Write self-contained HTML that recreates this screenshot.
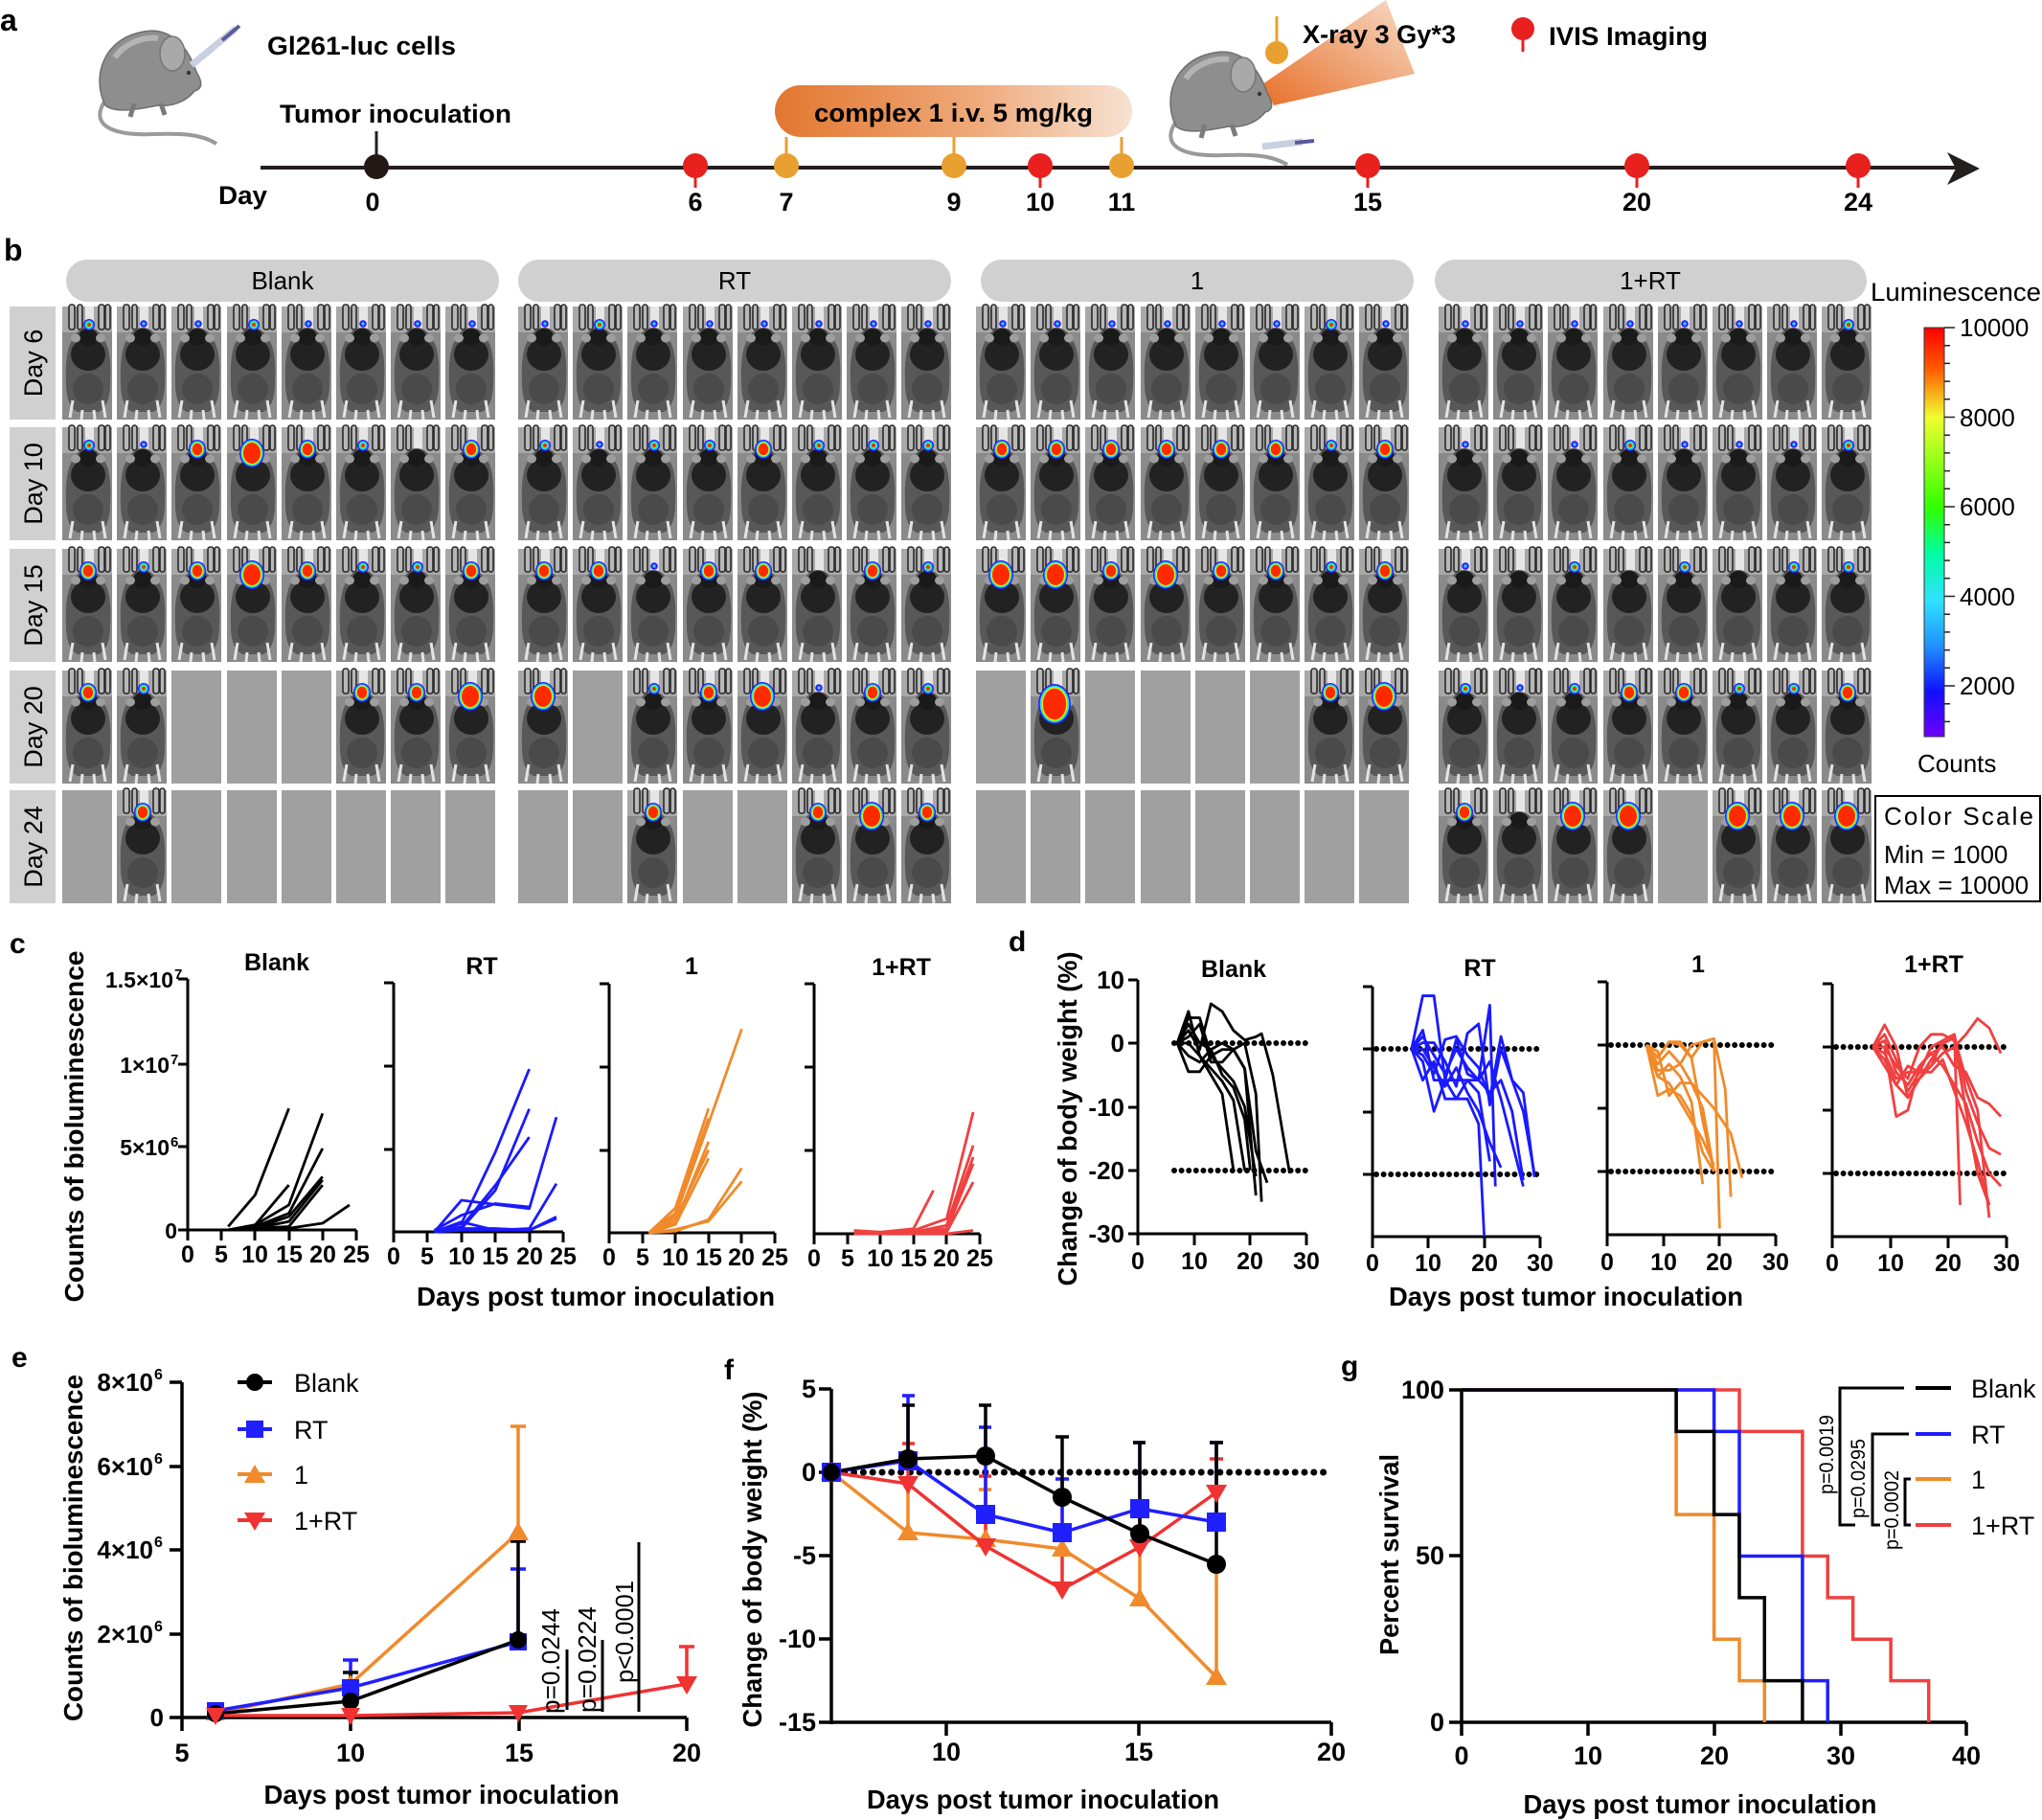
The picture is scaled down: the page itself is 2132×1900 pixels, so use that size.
<!DOCTYPE html>
<html><head><meta charset="utf-8"><style>
html,body{margin:0;padding:0;background:#fff;}
svg{display:block;}
text{font-family:"Liberation Sans",Arial,sans-serif;fill:#000;}
.b{font-weight:bold;}
.ns polyline,.ns path,.ns line{vector-effect:non-scaling-stroke;}
</style></head><body>
<svg width="2132" height="1900" viewBox="0 0 2132 1900" xmlns="http://www.w3.org/2000/svg">
<defs>
<linearGradient id="pillg" x1="0" x2="1" y1="0" y2="0"><stop offset="0" stop-color="#e2762f"/><stop offset="0.55" stop-color="#eea878"/><stop offset="1" stop-color="#f7e2d2"/></linearGradient>
<linearGradient id="beam" x1="0" y1="1" x2="1" y2="0"><stop offset="0" stop-color="#e8702a"/><stop offset="1" stop-color="#f6dcc8"/></linearGradient>
<linearGradient id="cbar" x1="0" y1="0" x2="0" y2="1">
<stop offset="0" stop-color="#ff0000"/><stop offset="0.1" stop-color="#ff5a00"/><stop offset="0.22" stop-color="#f0ff30"/><stop offset="0.44" stop-color="#30ff00"/><stop offset="0.55" stop-color="#00ffa0"/><stop offset="0.67" stop-color="#30e0ff"/><stop offset="0.78" stop-color="#2090ff"/><stop offset="0.89" stop-color="#1010ff"/><stop offset="1" stop-color="#7000ff"/></linearGradient>
<g id="e"><rect width="52" height="118" fill="#a0a0a0"/></g>
<g id="m0">
<rect width="52" height="118" fill="#8a8a8a"/>
<rect width="52" height="27" fill="#a8a8a8"/>
<g fill="#b8b8b8" stroke="#2a2a2a" stroke-width="1.6">
<rect x="7" y="-2" width="6" height="26" rx="2.5"/>
<rect x="16" y="-2" width="5" height="26" rx="2.5"/>
<rect x="38" y="-2" width="6" height="26" rx="2.5"/>
<rect x="45" y="-2" width="5" height="26" rx="2.5"/>
</g>
<rect x="24" y="0" width="9" height="26" fill="#e6e6e6"/>
<path d="M27,22 C35,22 40,28 43,34 C50,42 51,60 50,80 C50,96 46,106 38,110 L16,110 C8,106 4,96 4,80 C3,60 5,42 11,34 C14,28 19,22 27,22 Z" fill="#585858"/>
<ellipse cx="27" cy="50" rx="18" ry="17" fill="#222"/>
<ellipse cx="27" cy="32" rx="10" ry="9" fill="#1a1a1a"/>
<ellipse cx="27" cy="86" rx="16" ry="16" fill="#4a4a4a"/>
<ellipse cx="14" cy="33" rx="5" ry="4.5" fill="#9e9e9e"/>
<ellipse cx="40" cy="33" rx="5" ry="4.5" fill="#9e9e9e"/>
<path d="M11,98 L8,116 M42,98 L45,116 M21,108 L20,118 M33,108 L34,118" stroke="#e4e4e4" stroke-width="3"/>
</g>
<g id="ms"><use href="#m0"/><circle cx="28" cy="18" r="3.8" fill="#2a1cff"/><circle cx="28" cy="18" r="1.7" fill="#30d0ff"/></g>
<g id="mm"><use href="#m0"/><circle cx="28" cy="19" r="6" fill="#2a1cff"/><circle cx="28" cy="19" r="4.6" fill="#20c8ff"/><circle cx="28" cy="19" r="3.3" fill="#40ff50"/><circle cx="28" cy="19" r="2" fill="#ff2a10"/></g>
<g id="mL"><use href="#m0"/><ellipse cx="27" cy="23" rx="9" ry="10" fill="#2a1cff"/><ellipse cx="27" cy="23" rx="7.6" ry="8.6" fill="#20d0ff"/><ellipse cx="27" cy="23" rx="6.6" ry="7.6" fill="#50ff40"/><ellipse cx="27" cy="23" rx="5.9" ry="6.9" fill="#ffee00"/><ellipse cx="27" cy="23" rx="5.2" ry="6.2" fill="#ff2a00"/></g>
<g id="mX"><use href="#m0"/><ellipse cx="26" cy="27" rx="13" ry="15" fill="#2a1cff"/><ellipse cx="26" cy="27" rx="11.6" ry="13.6" fill="#20d0ff"/><ellipse cx="26" cy="27" rx="10.6" ry="12.6" fill="#50ff40"/><ellipse cx="26" cy="27" rx="9.8" ry="11.8" fill="#ffee00"/><ellipse cx="26" cy="27" rx="9" ry="11" fill="#ff2a00"/></g>
<g id="mXX"><use href="#m0"/><ellipse cx="25" cy="35" rx="17" ry="21" fill="#2a1cff"/><ellipse cx="25" cy="35" rx="15.4" ry="19.4" fill="#20d0ff"/><ellipse cx="25" cy="35" rx="14.2" ry="18.2" fill="#50ff40"/><ellipse cx="25" cy="35" rx="13.2" ry="17.2" fill="#ffee00"/><ellipse cx="25" cy="35" rx="12.2" ry="16.2" fill="#ff2a00"/></g>
<g id="mouse">
<path d="M112,102 C92,128 112,142 160,140 C190,139 210,140 226,150" stroke="#9a9a9a" stroke-width="4" fill="none"/>
<path d="M110,110 C95,80 108,40 150,33 C175,28 195,45 205,75 C212,86 211,93 203,95 C196,104 182,112 165,110 C140,115 120,118 110,110 Z" fill="#8e8e8e" stroke="#6e6e6e" stroke-width="1.5"/>
<path d="M120,60 C130,45 150,38 165,40" stroke="#b4b4b4" stroke-width="6" fill="none"/>
<ellipse cx="180" cy="56" rx="13" ry="18" fill="#a9a9a9" stroke="#777" stroke-width="1.5"/>
<circle cx="197" cy="76" r="2.2" fill="#333"/>
<path d="M140,108 L136,122 M168,108 L172,120" stroke="#7a7a7a" stroke-width="5"/>
</g>
</defs>

<!-- ===== Panel a ===== -->
<text x="0" y="32" class="b" font-size="32">a</text>
<use href="#mouse"/>
<line x1="200" y1="68" x2="246" y2="30" stroke="#c9d0e2" stroke-width="7"/>
<line x1="232" y1="42" x2="250" y2="27" stroke="#5a5a9a" stroke-width="4"/>
<text x="279" y="57" class="b" font-size="27" textLength="197" lengthAdjust="spacingAndGlyphs">Gl261-luc cells</text>
<text x="292" y="128" class="b" font-size="27" textLength="242" lengthAdjust="spacingAndGlyphs">Tumor inoculation</text>
<rect x="809" y="89" width="373" height="54" rx="27" fill="url(#pillg)"/>
<text x="850" y="127" class="b" font-size="27" textLength="291" lengthAdjust="spacingAndGlyphs">complex 1 i.v. 5 mg/kg</text>
<polygon points="1318,88 1447,0 1477,77 1330,110" fill="url(#beam)"/>
<use href="#mouse" transform="translate(1118 22)"/>
<line x1="1318" y1="153" x2="1360" y2="148" stroke="#c9d0e2" stroke-width="7"/>
<line x1="1352" y1="149" x2="1372" y2="147" stroke="#5a5a9a" stroke-width="4"/>
<!-- timeline -->
<line x1="272" y1="175" x2="2045" y2="175" stroke="#231f1f" stroke-width="4"/>
<polygon points="2033,159 2067,176 2033,193 2042,176" fill="#231f1f"/>
<line x1="393" y1="137" x2="393" y2="165" stroke="#231f1f" stroke-width="3"/>
<circle cx="393" cy="174" r="13" fill="#231815"/>
<g stroke="#e8a030" stroke-width="3"><line x1="821" y1="143" x2="821" y2="165"/><line x1="996" y1="143" x2="996" y2="165"/><line x1="1171" y1="143" x2="1171" y2="165"/><line x1="1333" y1="17" x2="1333" y2="48"/></g>
<g fill="#e8a030"><circle cx="821" cy="173" r="13"/><circle cx="996" cy="173" r="13"/><circle cx="1171" cy="173" r="13"/><circle cx="1333" cy="55" r="12"/></g>
<g stroke="#e8211f" stroke-width="3"><line x1="726" y1="180" x2="726" y2="196"/><line x1="1086" y1="180" x2="1086" y2="196"/><line x1="1428" y1="180" x2="1428" y2="196"/><line x1="1709" y1="180" x2="1709" y2="196"/><line x1="1940" y1="180" x2="1940" y2="196"/><line x1="1590" y1="36" x2="1590" y2="54"/></g>
<g fill="#e8211f"><circle cx="726" cy="173" r="13"/><circle cx="1086" cy="173" r="13"/><circle cx="1428" cy="173" r="13"/><circle cx="1709" cy="173" r="13"/><circle cx="1940" cy="173" r="13"/><circle cx="1590" cy="30" r="12"/></g>
<text x="1360" y="45" class="b" font-size="27" textLength="160" lengthAdjust="spacingAndGlyphs">X-ray 3 Gy*3</text>
<text x="1617" y="47" class="b" font-size="27" textLength="166" lengthAdjust="spacingAndGlyphs">IVIS Imaging</text>
<text x="228" y="213" class="b" font-size="27" textLength="51" lengthAdjust="spacingAndGlyphs">Day</text>
<g class="b" font-size="27" text-anchor="middle">
<text x="389" y="220">0</text><text x="726" y="220">6</text><text x="821" y="220">7</text><text x="996" y="220">9</text><text x="1086" y="220">10</text><text x="1171" y="220">11</text><text x="1428" y="220">15</text><text x="1709" y="220">20</text><text x="1940" y="220">24</text>
</g>

<!-- ===== Panel b ===== -->
<text x="4" y="272" class="b" font-size="32">b</text>
<g fill="#d0d0d0">
<rect x="69" y="271" width="452" height="44" rx="22"/>
<rect x="541" y="271" width="452" height="44" rx="22"/>
<rect x="1024" y="271" width="452" height="44" rx="22"/>
<rect x="1498" y="271" width="451" height="44" rx="22"/>
<rect x="10" y="320" width="48" height="118"/>
<rect x="10" y="446" width="48" height="118"/>
<rect x="10" y="573" width="48" height="118"/>
<rect x="10" y="700" width="48" height="118"/>
<rect x="10" y="825" width="48" height="118"/>
</g>
<g font-size="26" text-anchor="middle" fill="#222">
<text x="295" y="302">Blank</text><text x="767" y="302">RT</text><text x="1250" y="302">1</text><text x="1723" y="302">1+RT</text>
</g>
<g font-size="27" text-anchor="middle">
<text transform="translate(44 379) rotate(-90)">Day 6</text>
<text transform="translate(44 505) rotate(-90)">Day 10</text>
<text transform="translate(44 632) rotate(-90)">Day 15</text>
<text transform="translate(44 759) rotate(-90)">Day 20</text>
<text transform="translate(44 884) rotate(-90)">Day 24</text>
</g>
<!-- row Day 6 -->
<g transform="translate(0 320)">
<use href="#mm" x="65"/><use href="#ms" x="122"/><use href="#ms" x="179"/><use href="#mm" x="237"/><use href="#ms" x="294"/><use href="#ms" x="351"/><use href="#ms" x="408"/><use href="#ms" x="465"/>
<use href="#ms" x="541"/><use href="#mm" x="598"/><use href="#ms" x="655"/><use href="#ms" x="713"/><use href="#ms" x="770"/><use href="#ms" x="827"/><use href="#ms" x="884"/><use href="#ms" x="941"/>
<use href="#ms" x="1019"/><use href="#ms" x="1076"/><use href="#ms" x="1133"/><use href="#ms" x="1191"/><use href="#ms" x="1248"/><use href="#ms" x="1305"/><use href="#mm" x="1362"/><use href="#ms" x="1419"/>
<use href="#ms" x="1502"/><use href="#ms" x="1559"/><use href="#ms" x="1616"/><use href="#ms" x="1674"/><use href="#ms" x="1731"/><use href="#ms" x="1788"/><use href="#ms" x="1845"/><use href="#mm" x="1902"/>
</g>
<!-- row Day 10 -->
<g transform="translate(0 446)">
<use href="#mm" x="65"/><use href="#ms" x="122"/><use href="#mL" x="179"/><use href="#mX" x="237"/><use href="#mL" x="294"/><use href="#mm" x="351"/><use href="#m0" x="408"/><use href="#mL" x="465"/>
<use href="#mm" x="541"/><use href="#ms" x="598"/><use href="#mm" x="655"/><use href="#mm" x="713"/><use href="#mL" x="770"/><use href="#mm" x="827"/><use href="#mm" x="884"/><use href="#mm" x="941"/>
<use href="#mL" x="1019"/><use href="#mL" x="1076"/><use href="#mL" x="1133"/><use href="#mL" x="1191"/><use href="#mL" x="1248"/><use href="#mL" x="1305"/><use href="#mm" x="1362"/><use href="#mL" x="1419"/>
<use href="#ms" x="1502"/><use href="#m0" x="1559"/><use href="#ms" x="1616"/><use href="#mm" x="1674"/><use href="#ms" x="1731"/><use href="#ms" x="1788"/><use href="#ms" x="1845"/><use href="#mm" x="1902"/>
</g>
<!-- row Day 15 -->
<g transform="translate(0 573)">
<use href="#mL" x="65"/><use href="#mm" x="122"/><use href="#mL" x="179"/><use href="#mX" x="237"/><use href="#mL" x="294"/><use href="#mm" x="351"/><use href="#mm" x="408"/><use href="#mL" x="465"/>
<use href="#mL" x="541"/><use href="#mL" x="598"/><use href="#ms" x="655"/><use href="#mL" x="713"/><use href="#mL" x="770"/><use href="#m0" x="827"/><use href="#mL" x="884"/><use href="#mm" x="941"/>
<use href="#mX" x="1019"/><use href="#mX" x="1076"/><use href="#mL" x="1133"/><use href="#mX" x="1191"/><use href="#mL" x="1248"/><use href="#mL" x="1305"/><use href="#mm" x="1362"/><use href="#mL" x="1419"/>
<use href="#ms" x="1502"/><use href="#m0" x="1559"/><use href="#mm" x="1616"/><use href="#m0" x="1674"/><use href="#mm" x="1731"/><use href="#m0" x="1788"/><use href="#mm" x="1845"/><use href="#mm" x="1902"/>
</g>
<!-- row Day 20 -->
<g transform="translate(0 700)">
<use href="#mL" x="65"/><use href="#mm" x="122"/><use href="#e" x="179"/><use href="#e" x="237"/><use href="#e" x="294"/><use href="#mL" x="351"/><use href="#mL" x="408"/><use href="#mX" x="465"/>
<use href="#mX" x="541"/><use href="#e" x="598"/><use href="#mm" x="655"/><use href="#mL" x="713"/><use href="#mX" x="770"/><use href="#ms" x="827"/><use href="#mL" x="884"/><use href="#mm" x="941"/>
<use href="#e" x="1019"/><use href="#mXX" x="1076"/><use href="#e" x="1133"/><use href="#e" x="1191"/><use href="#e" x="1248"/><use href="#e" x="1305"/><use href="#mL" x="1362"/><use href="#mX" x="1419"/>
<use href="#mm" x="1502"/><use href="#ms" x="1559"/><use href="#mm" x="1616"/><use href="#mL" x="1674"/><use href="#mL" x="1731"/><use href="#mm" x="1788"/><use href="#mm" x="1845"/><use href="#mL" x="1902"/>
</g>
<!-- row Day 24 -->
<g transform="translate(0 825)">
<use href="#e" x="65"/><use href="#mL" x="122"/><use href="#e" x="179"/><use href="#e" x="237"/><use href="#e" x="294"/><use href="#e" x="351"/><use href="#e" x="408"/><use href="#e" x="465"/>
<use href="#e" x="541"/><use href="#e" x="598"/><use href="#mL" x="655"/><use href="#e" x="713"/><use href="#e" x="770"/><use href="#mL" x="827"/><use href="#mX" x="884"/><use href="#mL" x="941"/>
<use href="#e" x="1019"/><use href="#e" x="1076"/><use href="#e" x="1133"/><use href="#e" x="1191"/><use href="#e" x="1248"/><use href="#e" x="1305"/><use href="#e" x="1362"/><use href="#e" x="1419"/>
<use href="#mL" x="1502"/><use href="#m0" x="1559"/><use href="#mX" x="1616"/><use href="#mX" x="1674"/><use href="#e" x="1731"/><use href="#mX" x="1788"/><use href="#mX" x="1845"/><use href="#mX" x="1902"/>
</g>
<!-- colour bar -->
<text x="1953" y="314" font-size="27" textLength="178" lengthAdjust="spacingAndGlyphs">Luminescence</text>
<rect x="2009" y="342" width="21" height="427" fill="url(#cbar)" stroke="#333" stroke-width="1"/>
<path d="M2030,342 H2041 M2030,435.5 H2041 M2030,529 H2041 M2030,622.5 H2041 M2030,716 H2041 M2030,360.7 H2036 M2030,379.4 H2036 M2030,398.1 H2036 M2030,416.8 H2036 M2030,454.2 H2036 M2030,472.9 H2036 M2030,491.6 H2036 M2030,510.3 H2036 M2030,547.7 H2036 M2030,566.4 H2036 M2030,585.1 H2036 M2030,603.8 H2036 M2030,641.2 H2036 M2030,659.9 H2036 M2030,678.6 H2036 M2030,697.3 H2036 M2030,734.7 H2036 M2030,753.4 H2036" stroke="#222" stroke-width="1.5"/>
<g font-size="26"><text x="2046" y="351">10000</text><text x="2046" y="445">8000</text><text x="2046" y="538">6000</text><text x="2046" y="632">4000</text><text x="2046" y="725">2000</text></g>
<text x="2002" y="806" font-size="26">Counts</text>
<rect x="1958" y="831" width="172" height="110" fill="#fff" stroke="#000" stroke-width="2"/>
<g font-size="26"><text x="1967" y="861" textLength="156" lengthAdjust="spacing">Color  Scale</text><text x="1967" y="901">Min  = 1000</text><text x="1967" y="933">Max = 10000</text></g>

<!-- ===== Panel c ===== -->
<text x="10" y="995" class="b" font-size="30">c</text>
<text transform="translate(87 1176) rotate(-90)" class="b" font-size="28" text-anchor="middle" textLength="367" lengthAdjust="spacingAndGlyphs">Counts of bioluminescence</text>
<g class="b" font-size="25" text-anchor="middle">
<text x="289" y="1013">Blank</text><text x="503" y="1017">RT</text><text x="722" y="1017">1</text><text x="941" y="1018">1+RT</text>
</g>
<g class="b" font-size="23" text-anchor="end">
<text x="181" y="1031">1.5×10</text><text x="177" y="1120">1×10</text><text x="177" y="1206">5×10</text><text x="185" y="1293">0</text>
</g>
<g class="b" font-size="15"><text x="182" y="1022">7</text><text x="178" y="1111">7</text><text x="178" y="1197">6</text></g>
<g stroke="#000" stroke-width="3" fill="none">
<path d="M196,1022 V1285.5 M196,1284 H372 M186,1022 H196 M186,1111 H196 M186,1197 H196 M186,1284 H196 M196,1284 V1295 M231,1284 V1295 M266,1284 V1295 M302,1284 V1295 M337,1284 V1295 M372,1284 V1295"/>
<path d="M411,1026 V1287.5 M411,1286 H588 M401,1026 H411 M401,1113 H411 M401,1200 H411 M411,1286 V1297 M446,1286 V1297 M482,1286 V1297 M517,1286 V1297 M553,1286 V1297 M588,1286 V1297"/>
<path d="M636,1027 V1288.5 M636,1287 H809 M626,1027 H636 M626,1114 H636 M626,1201 H636 M636,1287 V1298 M671,1287 V1298 M705,1287 V1298 M740,1287 V1298 M774,1287 V1298 M809,1287 V1298"/>
<path d="M850,1027 V1289.5 M850,1288 H1023 M840,1027 H850 M840,1114 H850 M840,1201 H850 M850,1288 V1299 M885,1288 V1299 M919,1288 V1299 M954,1288 V1299 M988,1288 V1299 M1023,1288 V1299"/>
</g>
<g class="b" font-size="25" text-anchor="middle">
<text x="196" y="1318">0</text><text x="231" y="1318">5</text><text x="266" y="1318">10</text><text x="302" y="1318">15</text><text x="337" y="1318">20</text><text x="372" y="1318">25</text>
<text x="411" y="1320">0</text><text x="446" y="1320">5</text><text x="482" y="1320">10</text><text x="517" y="1320">15</text><text x="553" y="1320">20</text><text x="588" y="1320">25</text>
<text x="636" y="1321">0</text><text x="671" y="1321">5</text><text x="705" y="1321">10</text><text x="740" y="1321">15</text><text x="774" y="1321">20</text><text x="809" y="1321">25</text>
<text x="850" y="1322">0</text><text x="885" y="1322">5</text><text x="919" y="1322">10</text><text x="954" y="1322">15</text><text x="988" y="1322">20</text><text x="1023" y="1322">25</text>
</g>
<text x="622" y="1363" class="b" font-size="28" text-anchor="middle" textLength="374" lengthAdjust="spacingAndGlyphs">Days post tumor inoculation</text>
<g class="ns" fill="none" stroke-width="2.8" stroke-linejoin="round">
<g transform="translate(196 1284) scale(7.04 -17.38)" stroke="#000">
<polyline points="6,0.2 10,2.1 15,7.3"/><polyline points="6,0 10,0.3 15,1.5 20,7.0"/><polyline points="6,0 10,0.2 15,1.0 20,4.9"/><polyline points="6,0 10,0.1 15,0.8 20,3.2"/><polyline points="6,0 10,0.3 15,2.7"/><polyline points="6,0 10,0.1 15,0.2 20,2.7"/><polyline points="6,0 10,0 15,0.1 20,0.4 24,1.5"/><polyline points="6,0 10,0.1 15,0.5 20,3.0"/>
</g>
<g transform="translate(411 1286) scale(7.08 -17.35)" stroke="#1a1aff">
<polyline points="6,0 10,1.9 15,1.65 20,1.4 24,6.9"/><polyline points="6,0 10,0.5 15,4.8 20,9.8"/><polyline points="6,0 10,0.2 15,2.5 20,7.4"/><polyline points="6,0 10,0.3 15,2.8 20,5.7"/><polyline points="6,0 10,0.6 15,0.1 20,0.2 24,2.9"/><polyline points="6,0 10,0.1 15,0.1 20,0.1 24,0.8"/><polyline points="6,0 10,0.2 15,0.2 20,0.1 24,0.9"/><polyline points="6,0.1 10,1.0 15,1.7 20,1.5"/>
</g>
<g transform="translate(636 1287) scale(6.92 -17.3)" stroke="#f08a2a">
<polyline points="6,0 10,1.5 15,7.5"/><polyline points="6,0 10,1.2 15,6.9"/><polyline points="6,0 10,0.8 15,5.0"/><polyline points="6,0 10,0.5 15,4.5"/><polyline points="6,0 10,0.6 15,5.5"/><polyline points="6,0 10,0.1 15,0.8 20,3.9"/><polyline points="6,0 10,0.2 15,0.7 20,3.1"/><polyline points="6,0 10,1.0 15,6.6 20,12.3"/>
</g>
<g transform="translate(850 1288) scale(6.92 -17.4)" stroke="#f04040">
<polyline points="6,0.2 10,0.1 15,0.3 18,2.6"/><polyline points="6,0 10,0 15,0.2 20,0.9 24,7.3"/><polyline points="6,0 10,0 15,0.1 20,0.5 24,5.3"/><polyline points="6,0 10,0 15,0.1 20,0.3 24,4.6"/><polyline points="6,0 10,0 15,0.1 20,0.2 24,4.2"/><polyline points="6,0 10,0 15,0 20,0.1 24,3.1"/><polyline points="6,0.1 10,0.1 15,0 20,0 24,0.2"/>
</g>
</g>

<!-- ===== Panel d ===== -->
<text x="1053" y="993" class="b" font-size="30">d</text>
<text transform="translate(1124 1168) rotate(-90)" class="b" font-size="28" text-anchor="middle" textLength="349" lengthAdjust="spacingAndGlyphs">Change of body weight (%)</text>
<g class="b" font-size="25" text-anchor="middle">
<text x="1288" y="1020">Blank</text><text x="1545" y="1019">RT</text><text x="1773" y="1015">1</text><text x="2019" y="1015">1+RT</text>
</g>
<g class="b" font-size="26" text-anchor="end">
<text x="1174" y="1032">10</text><text x="1174" y="1098">0</text><text x="1174" y="1165">-10</text><text x="1174" y="1231">-20</text><text x="1174" y="1297">-30</text>
</g>
<g stroke="#000" stroke-width="3" fill="none">
<path d="M1188,1023 V1289.5 M1188,1288 H1364 M1178,1023 H1188 M1178,1089 H1188 M1178,1156 H1188 M1178,1222 H1188 M1178,1288 H1188 M1188,1288 V1300 M1247,1288 V1300 M1305,1288 V1300 M1364,1288 V1300"/>
<path d="M1433,1030 V1292.5 M1433,1291 H1608 M1423,1030 H1433 M1423,1095 H1433 M1423,1161 H1433 M1423,1226 H1433 M1433,1291 V1303 M1491,1291 V1303 M1550,1291 V1303 M1608,1291 V1303"/>
<path d="M1678,1025 V1290.5 M1678,1289 H1854 M1668,1025 H1678 M1668,1091 H1678 M1668,1157 H1678 M1668,1223 H1678 M1678,1289 V1301 M1737,1289 V1301 M1795,1289 V1301 M1854,1289 V1301"/>
<path d="M1913,1027 V1292.5 M1913,1291 H2095 M1903,1027 H1913 M1903,1093 H1913 M1903,1159 H1913 M1903,1225 H1913 M1913,1291 V1303 M1974,1291 V1303 M2034,1291 V1303 M2095,1291 V1303"/>
</g>
<g class="b" font-size="25" text-anchor="middle">
<text x="1188" y="1325">0</text><text x="1247" y="1325">10</text><text x="1305" y="1325">20</text><text x="1364" y="1325">30</text>
<text x="1433" y="1327">0</text><text x="1491" y="1327">10</text><text x="1550" y="1327">20</text><text x="1608" y="1327">30</text>
<text x="1678" y="1326">0</text><text x="1737" y="1326">10</text><text x="1795" y="1326">20</text><text x="1854" y="1326">30</text>
<text x="1913" y="1327">0</text><text x="1974" y="1327">10</text><text x="2034" y="1327">20</text><text x="2095" y="1327">30</text>
</g>
<text x="1635" y="1363" class="b" font-size="28" text-anchor="middle" textLength="370" lengthAdjust="spacingAndGlyphs">Days post tumor inoculation</text>
<g stroke="#000" stroke-width="6" stroke-linecap="round" stroke-dasharray="0 7.6">
<line x1="1226" y1="1089" x2="1364" y2="1089"/><line x1="1226" y1="1222" x2="1364" y2="1222"/>
<line x1="1437" y1="1095" x2="1608" y2="1095"/><line x1="1437" y1="1226" x2="1608" y2="1226"/>
<line x1="1682" y1="1091" x2="1854" y2="1091"/><line x1="1682" y1="1223" x2="1854" y2="1223"/>
<line x1="1917" y1="1093" x2="2097" y2="1093"/><line x1="1917" y1="1225" x2="2097" y2="1225"/>
</g>
<g class="ns" fill="none" stroke-width="2.8" stroke-linejoin="round">
<g transform="translate(1188 1089) scale(5.87 -6.625)" stroke="#000">
<polyline points="7,0 9,5 11,-2 13,-5 15,-8 17,-20"/><polyline points="7,0 9,-4.5 11,-4.5 13,-2 15,-1 17,-1 19,-4 21,-24"/><polyline points="7,0 9,2 11,-1 13,6.2 15,5 17,2 19,0.5 21,1 22,1.5 24,-5 27,-20.5"/><polyline points="7,0 9,4 11,4 13,-2 15,-4 17,-6 19,-10 21,-21"/><polyline points="7,0 9,1 11,3 13,-3 15,-3 17,-1 19,0 21,-8 22,-25"/><polyline points="7,0 9,-2 11,-3 13,-1 15,-5 17,-7 19,-12 20,-20"/><polyline points="7,0 9,3 11,0 13,-1 15,0 17,-1 19,-4 21,-17 23,-22"/><polyline points="7,0 9,0 11,-2 13,-4 15,-6 17,-9 19,-20"/>
</g>
<g transform="translate(1433 1095) scale(5.83 -6.525)" stroke="#1a1aff">
<polyline points="7,0 9,8.5 11,8.5 13,-5 15,-8 17,-8 19,-12 20,-30"/><polyline points="7,0 9,3 11,-5 13,-5 15,-5 17,-5 19,-5 21,7 22,-22"/><polyline points="7,0 9,-2 11,-10 13,-5 15,1.5 17,-4 19,-5 21,-7 23,-5 25,-10 27,-21"/><polyline points="7,0 9,1 11,1 13,-2 15,-6 17,2.5 19,4 21,-9 23,0 25,-5 27,-10 29,-20"/><polyline points="7,0 9,-1 11,-4 13,1.5 15,2 17,-1 19,-3 21,-8 23,2 25,-5 27,-7 29,-20.5"/><polyline points="7,0 9,-5 11,-2 13,-8 15,-8 17,-5 19,-7 21,-18"/><polyline points="7,0 9,0 11,-3 13,-6 15,-3 17,-7 19,-10 21,-15 23,-19"/><polyline points="7,0 9,2 11,-1 13,-4 15,0 17,-3 19,-5 21,-2 23,-8 25,-15 27,-22"/>
</g>
<g transform="translate(1678 1091) scale(5.87 -6.6)" stroke="#f08a2a">
<polyline points="7,0 9,-5 11,-3 13,-5 15,-9 17,-22"/><polyline points="7,0 9,-2 11,0.5 13,0.5 15,-2 17,-12 19,-20"/><polyline points="7,0 9,-1 11,-8 13,-6 15,-6 17,-10 19,-20"/><polyline points="7,0 9,-8 11,-7 13,-8 15,-11 17,-17 19,-20"/><polyline points="7,0 9,-2 11,0.5 13,0 15,-2 17,0.5 19,1 21,-7 22,-24"/><polyline points="7,0 9,-3 11,-1 13,-3 15,0 17,0.5 19,1 20,-29"/><polyline points="7,0 9,-4 11,-4 13,-3 15,-6 17,-8 19,-10 22,-14 24,-21"/><polyline points="7,0 9,-5 11,-6 13,-9 15,-12 17,-15 19,-19"/>
</g>
<g transform="translate(1913 1093) scale(6.07 -6.6)" stroke="#f04040">
<polyline points="7,0 9,2 11,-2 13,-7 15,-4 17,0 19,1 21,2 22,-25"/><polyline points="7,0 9,3.5 11,0 13,-8 15,-5 17,-2 19,0.5 21,1.5 23,-5 25,-10 27,-27"/><polyline points="7,0 9,0 11,-11 13,-10 15,-3 17,-1 19,0 21,-3 23,-4 25,-8 27,-9 29,-11"/><polyline points="7,0 9,-1 11,-5 13,-4 15,-4 17,-3 19,-1 21,0 23,2 25,4.5 27,3 29,-1"/><polyline points="7,0 9,-3 11,-6 13,-8 15,-5 17,-3 19,1 21,2 23,-7 25,-12 27,-16 29,-17"/><polyline points="7,0 9,1 11,-4 13,-6 15,-3 17,-1 19,-3 21,-6 23,-9 25,-15 27,-20 29,-22"/><polyline points="7,0 9,-2 11,-6 13,-3 15,-4 17,-4 19,-2 21,-7 23,-12 25,-18 27,-25"/><polyline points="7,0 9,0 11,-3 13,-5 15,0 17,2 19,2 21,1 23,-10 25,-20 27,-25"/>
</g>
</g>

<!-- ===== Panel e ===== -->
<text x="12" y="1427" class="b" font-size="30">e</text>
<text transform="translate(86 1616) rotate(-90)" class="b" font-size="28" text-anchor="middle" textLength="362" lengthAdjust="spacingAndGlyphs">Counts of bioluminescence</text>
<g stroke="#000" stroke-width="3.5" fill="none">
<path d="M190,1443 V1795 M188,1793 H717 M177,1443 H190 M177,1531 H190 M177,1618 H190 M177,1706 H190 M177,1793 H190 M190,1793 V1807 M366,1793 V1807 M542,1793 V1807 M717,1793 V1807"/>
</g>
<g class="b" font-size="26" text-anchor="end">
<text x="160" y="1452">8×10</text><text x="160" y="1540">6×10</text><text x="160" y="1627">4×10</text><text x="160" y="1715">2×10</text><text x="171" y="1802">0</text>
</g>
<g class="b" font-size="16"><text x="161" y="1440">6</text><text x="161" y="1528">6</text><text x="161" y="1615">6</text><text x="161" y="1703">6</text></g>
<g class="b" font-size="27" text-anchor="middle"><text x="190" y="1839">5</text><text x="366" y="1839">10</text><text x="542" y="1839">15</text><text x="717" y="1839">20</text></g>
<text x="461" y="1883" class="b" font-size="28" text-anchor="middle" textLength="371" lengthAdjust="spacingAndGlyphs">Days post tumor inoculation</text>
<!-- data e -->
<g fill="none" stroke-width="3.5" stroke-linejoin="round">
<polyline points="225,1789 366,1758 541,1600" stroke="#f08a2a"/>
<path d="M541,1600 V1489 M533,1489 H549" stroke="#f08a2a"/>
<polyline points="225,1786 366,1762 541,1714" stroke="#1f1fff"/>
<path d="M366,1762 V1733 M358,1733 H374 M541,1714 V1638 M533,1638 H549" stroke="#1f1fff"/>
<polyline points="225,1789 366,1776 541,1712" stroke="#000"/>
<path d="M366,1776 V1746 M358,1746 H374 M541,1712 V1609 M533,1609 H549" stroke="#000"/>
<polyline points="225,1791 366,1791 541,1788 717,1758" stroke="#f03232"/>
<path d="M717,1758 V1719 M709,1719 H725" stroke="#f03232"/>
</g>
<polygon points="541,1589 552,1608 530,1608" fill="#f08a2a"/>
<polygon points="366,1748 376,1765 356,1765" fill="#f08a2a"/>
<polygon points="225,1779 235,1796 215,1796" fill="#f08a2a"/>
<rect x="216" y="1777" width="18" height="18" fill="#1f1fff"/><rect x="357" y="1753" width="18" height="18" fill="#1f1fff"/><rect x="532" y="1705" width="18" height="18" fill="#1f1fff"/>
<circle cx="225" cy="1789" r="9" fill="#000"/><circle cx="366" cy="1776" r="9" fill="#000"/><circle cx="541" cy="1712" r="9" fill="#000"/>
<g fill="#f03232"><polygon points="225,1801 235,1783 215,1783"/><polygon points="366,1801 376,1783 356,1783"/><polygon points="541,1798 551,1780 531,1780"/><polygon points="717,1769 728,1750 706,1750"/></g>
<!-- legend e -->
<g stroke-width="4"><line x1="248" y1="1443" x2="284" y2="1443" stroke="#000"/><line x1="248" y1="1492" x2="284" y2="1492" stroke="#1f1fff"/><line x1="248" y1="1539" x2="284" y2="1539" stroke="#f08a2a"/><line x1="248" y1="1587" x2="284" y2="1587" stroke="#f03232"/></g>
<circle cx="266" cy="1443" r="9" fill="#000"/><rect x="257" y="1483" width="18" height="18" fill="#1f1fff"/><polygon points="266,1529 277,1548 255,1548" fill="#f08a2a"/><polygon points="266,1598 277,1579 255,1579" fill="#f03232"/>
<g font-size="27"><text x="307" y="1453">Blank</text><text x="307" y="1502">RT</text><text x="307" y="1549">1</text><text x="307" y="1597">1+RT</text></g>
<!-- p values e -->
<g stroke="#000" stroke-width="3"><line x1="592" y1="1722" x2="592" y2="1785"/><line x1="629" y1="1712" x2="629" y2="1787"/><line x1="667" y1="1610" x2="667" y2="1787"/></g>
<g font-size="26">
<text transform="translate(584 1789) rotate(-90)" textLength="110" lengthAdjust="spacingAndGlyphs">p=0.0244</text>
<text transform="translate(622 1788) rotate(-90)" textLength="111" lengthAdjust="spacingAndGlyphs">p=0.0224</text>
<text transform="translate(661 1757) rotate(-90)" textLength="107" lengthAdjust="spacingAndGlyphs">p&lt;0.0001</text>
</g>

<!-- ===== Panel f ===== -->
<text x="756" y="1440" class="b" font-size="30">f</text>
<text transform="translate(795 1628) rotate(-90)" class="b" font-size="28" text-anchor="middle" textLength="351" lengthAdjust="spacingAndGlyphs">Change of body weight (%)</text>
<g stroke="#000" stroke-width="3.5" fill="none">
<path d="M868,1450 V1800 M866,1798 H1390 M855,1450 H868 M855,1537 H868 M855,1624 H868 M855,1711 H868 M855,1798 H868 M988,1798 V1812 M1189,1798 V1812 M1390,1798 V1812"/>
</g>
<g class="b" font-size="27" text-anchor="end"><text x="852" y="1459">5</text><text x="852" y="1546">0</text><text x="852" y="1633">-5</text><text x="852" y="1720">-10</text><text x="852" y="1807">-15</text></g>
<g class="b" font-size="27" text-anchor="middle"><text x="988" y="1838">10</text><text x="1189" y="1838">15</text><text x="1390" y="1838">20</text></g>
<text x="1089" y="1888" class="b" font-size="28" text-anchor="middle" textLength="368" lengthAdjust="spacingAndGlyphs">Days post tumor inoculation</text>
<line x1="872" y1="1537" x2="1383" y2="1537" stroke="#000" stroke-width="7" stroke-linecap="round" stroke-dasharray="0 9.8"/>
<g fill="none" stroke-width="3.5" stroke-linejoin="round">
<polyline points="868,1537 948,1600 1029,1607 1109,1617 1190,1669 1270,1751" stroke="#f08a2a"/>
<path d="M948,1600 V1543 M942,1543 H955 M1029,1607 V1555 M1022,1555 H1035 M1109,1617 V1560 M1190,1669 V1610 M1270,1751 V1640" stroke="#f08a2a"/>
<polyline points="868,1537 948,1549 1029,1614 1109,1659 1190,1615 1270,1558" stroke="#f03232"/>
<path d="M948,1549 V1507 M942,1507 H955 M1029,1614 V1541 M1022,1541 H1035 M1109,1659 V1600 M1190,1615 V1570 M1270,1558 V1523 M1263,1523 H1277" stroke="#f03232"/>
<polyline points="868,1537 948,1525 1029,1581 1109,1600 1190,1575 1270,1589" stroke="#1f1fff"/>
<path d="M948,1525 V1457 M942,1457 H955 M1029,1581 V1490 M1022,1490 H1035 M1109,1600 V1544 M1102,1544 H1116 M1190,1575 V1506 M1183,1506 H1196 M1270,1589 V1506 M1263,1506 H1277" stroke="#1f1fff"/>
<polyline points="868,1537 948,1523 1029,1520 1109,1563 1190,1601 1270,1633" stroke="#000"/>
<path d="M948,1523 V1467 M942,1467 H955 M1029,1520 V1467 M1022,1467 H1035 M1109,1563 V1500 M1102,1500 H1116 M1190,1601 V1506 M1183,1506 H1196 M1270,1633 V1506 M1263,1506 H1277" stroke="#000"/>
</g>
<g fill="#f08a2a"><polygon points="868,1526 879,1545 857,1545"/><polygon points="948,1589 959,1608 937,1608"/><polygon points="1029,1596 1040,1615 1018,1615"/><polygon points="1109,1606 1120,1625 1098,1625"/><polygon points="1190,1658 1201,1677 1179,1677"/><polygon points="1270,1740 1281,1759 1259,1759"/></g>
<g fill="#f03232"><polygon points="948,1560 959,1541 937,1541"/><polygon points="1029,1625 1040,1606 1018,1606"/><polygon points="1109,1670 1120,1651 1098,1651"/><polygon points="1190,1626 1201,1607 1179,1607"/><polygon points="1270,1569 1281,1550 1259,1550"/></g>
<g fill="#1f1fff"><rect x="858" y="1527" width="20" height="20"/><rect x="938" y="1515" width="20" height="20"/><rect x="1019" y="1571" width="20" height="20"/><rect x="1099" y="1590" width="20" height="20"/><rect x="1180" y="1565" width="20" height="20"/><rect x="1260" y="1579" width="20" height="20"/></g>
<g fill="#000"><circle cx="868" cy="1537" r="9"/><circle cx="948" cy="1523" r="10"/><circle cx="1029" cy="1520" r="10"/><circle cx="1109" cy="1563" r="10"/><circle cx="1190" cy="1601" r="10"/><circle cx="1270" cy="1633" r="10"/></g>

<!-- ===== Panel g ===== -->
<text x="1400" y="1436" class="b" font-size="30">g</text>
<text transform="translate(1460 1623) rotate(-90)" class="b" font-size="28" text-anchor="middle" textLength="210" lengthAdjust="spacingAndGlyphs">Percent survival</text>
<g stroke="#000" stroke-width="3.5" fill="none">
<path d="M1526,1451 V1800 M1524,1798 H2053 M1513,1451 H1526 M1513,1624 H1526 M1513,1798 H1526 M1526,1798 V1812 M1658,1798 V1812 M1790,1798 V1812 M1922,1798 V1812 M2053,1798 V1812"/>
</g>
<g class="b" font-size="27" text-anchor="end"><text x="1508" y="1460">100</text><text x="1508" y="1633">50</text><text x="1508" y="1807">0</text></g>
<g class="b" font-size="27" text-anchor="middle"><text x="1526" y="1842">0</text><text x="1658" y="1842">10</text><text x="1790" y="1842">20</text><text x="1922" y="1842">30</text><text x="2053" y="1842">40</text></g>
<text x="1775" y="1893" class="b" font-size="28" text-anchor="middle" textLength="369" lengthAdjust="spacingAndGlyphs">Days post tumor inoculation</text>
<g fill="none" stroke-width="3.5">
<path d="M1526,1451 H1816 V1494.4 H1881.9 V1624.5 H1908.2 V1667.9 H1934.6 V1711.3 H1974.1 V1754.6 H2013.7 V1798" stroke="#f04040"/>
<path d="M1526,1451 H1750.1 V1581.1 H1789.6 V1711.3 H1816 V1754.6 H1842.3 V1798" stroke="#f08a2a"/>
<path d="M1526,1451 H1789.6 V1494.4 H1816 V1624.5 H1881.9 V1754.6 H1908.2 V1798" stroke="#1f1fff"/>
<path d="M1526,1451 H1750.1 V1494.4 H1789.6 V1581.1 H1816 V1667.9 H1842.3 V1754.6 H1881.9 V1798" stroke="#000"/>
</g>
<!-- legend g -->
<g stroke-width="4"><line x1="2000" y1="1449" x2="2037" y2="1449" stroke="#000"/><line x1="2000" y1="1497" x2="2037" y2="1497" stroke="#1f1fff"/><line x1="2000" y1="1544" x2="2037" y2="1544" stroke="#f08a2a"/><line x1="2000" y1="1592" x2="2037" y2="1592" stroke="#f04040"/></g>
<g font-size="27"><text x="2058" y="1459">Blank</text><text x="2058" y="1507">RT</text><text x="2058" y="1554">1</text><text x="2058" y="1602">1+RT</text></g>
<g stroke="#000" stroke-width="3" fill="none">
<path d="M1988,1449 H1921 V1592 H1937"/>
<path d="M1993,1497 H1955 V1592 H1963"/>
<path d="M1995,1544 H1989 V1592 H1995"/>
</g>
<g font-size="21">
<text transform="translate(1914 1560) rotate(-90)" textLength="83" lengthAdjust="spacingAndGlyphs">p=0.0019</text>
<text transform="translate(1947 1585) rotate(-90)" textLength="83" lengthAdjust="spacingAndGlyphs">p=0.0295</text>
<text transform="translate(1982 1618) rotate(-90)" textLength="83" lengthAdjust="spacingAndGlyphs">p=0.0002</text>
</g>
</svg>
</body></html>
